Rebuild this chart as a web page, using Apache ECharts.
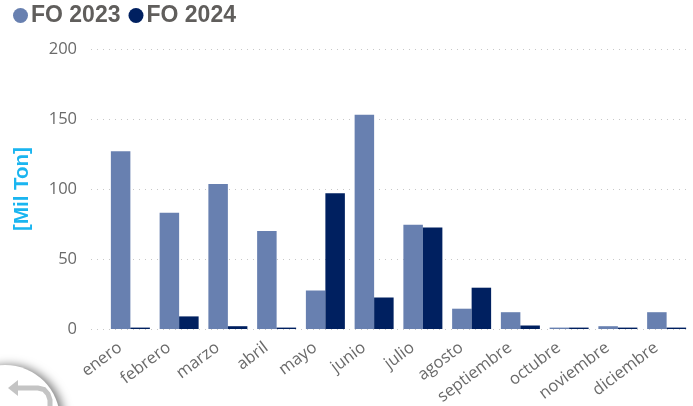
<!DOCTYPE html>
<html><head><meta charset="utf-8">
<style>html,body{margin:0;padding:0;background:#fff}#c{width:693px;height:406px}</style>
<script src="https://cdn.jsdelivr.net/npm/echarts@6/dist/echarts.min.js"></script>
</head><body><div id="c"></div>
<script>
const categories=['enero','febrero','marzo','abril','mayo','junio','julio','agosto','septiembre','octubre','noviembre','diciembre'];
const fo2023=[127,83,103.5,70,27.5,153,74.5,14.5,12,1,2,12];
const fo2024=[1,9,2,1,97,22.5,72.5,29.5,2.5,1,1,1];
const seriesNames=['FO 2023','FO 2024'];
const yTicks={min:0,max:200,interval:50};
const chart=echarts.init(document.getElementById('c'),null,{renderer:'canvas'});
chart.setOption({
  animation:false,
  color:['#6880B0','#002060'],
  legend:{left:8,top:-1,itemGap:8,itemWidth:15,itemHeight:15,icon:'circle',
    textStyle:{fontFamily:'Liberation Sans',fontWeight:'bold',fontSize:23,color:'#605E5C',padding:[0,0,0,-2]},
    data:seriesNames},
  grid:[
    {left:91,right:2,top:49,height:280,outerBoundsMode:'none'},
    {left:106,right:2,top:49,height:280,outerBoundsMode:'none'}
  ],
  xAxis:[
    {gridIndex:0,type:'value',min:0,max:1,show:false},
    {gridIndex:1,type:'category',data:categories,
     axisLine:{show:false},axisTick:{show:false},
     axisLabel:{interval:0,rotate:37,color:'#6A6A6A',fontFamily:'Open Sans',fontSize:16.5,margin:9,padding:[0,13,0,0]}}
  ],
  yAxis:[
    {gridIndex:0,type:'value',...yTicks,
     name:'[Mil Ton]',nameLocation:'middle',nameGap:58,
     nameTextStyle:{color:'#1AB5F0',fontFamily:'Liberation Sans',fontWeight:'bold',fontSize:20.5},
     axisLine:{show:false},axisTick:{show:false},
     axisLabel:{color:'#6A6A6A',fontFamily:'Open Sans',fontSize:16.5,margin:14},
     splitLine:{show:true,lineStyle:{color:'#C8C8C8',type:[1,5],width:1}}},
    {gridIndex:1,type:'value',...yTicks,show:false,splitLine:{show:false}}
  ],
  series:[
    {name:seriesNames[0],type:'bar',xAxisIndex:1,yAxisIndex:1,data:fo2023,barGap:0,barCategoryGap:'20%'},
    {name:seriesNames[1],type:'bar',xAxisIndex:1,yAxisIndex:1,data:fo2024,barGap:0,barCategoryGap:'20%'}
  ],
  graphic:[
    {type:'circle',shape:{cx:5,cy:420,r:55},style:{fill:'#fff',shadowBlur:10,shadowColor:'rgba(0,0,0,0.5)',shadowOffsetX:4,shadowOffsetY:0},z:5},
    {type:'polyline',shape:{points:[[14,388],[38,388],[44,389.5],[48,394],[50,400],[50,406]]},style:{stroke:'#C4C4C4',lineWidth:5,fill:null},z:6},
    {type:'polygon',shape:{points:[[8,388],[18,380],[18,396]]},style:{fill:'#C4C4C4'},z:6}
  ]
});
</script></body></html>
